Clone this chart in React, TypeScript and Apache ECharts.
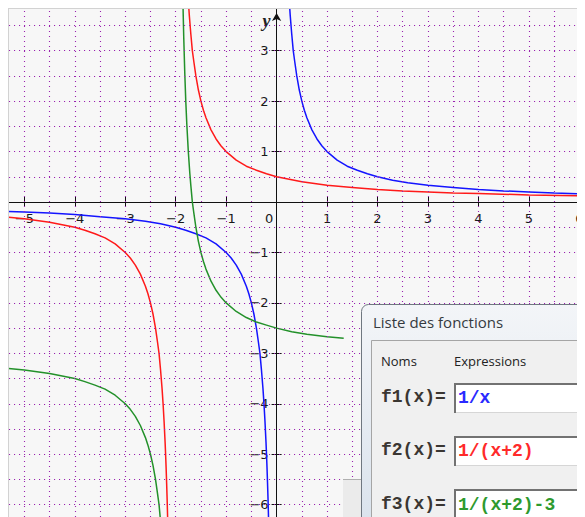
import { useEffect, useRef } from 'react';
import * as echarts from 'echarts';

// ---- axis ticks / labels ----
const xTickValues = [-5, -4, -3, -2, -1, 0, 1, 2, 3, 4, 5, 6];
const xLabelValues = [-5, -4, -3, -2, -1, 0, 1, 2, 3, 4, 5, 6];
const yTickValues = [-6, -5, -4, -3, -2, -1, 1, 2, 3];
const yLabelValues = [-6, -5, -4, -3, -2, -1, 1, 2, 3];
// dotted grid (every half unit)
const gridXValues = [-5, -4.5, -4, -3.5, -3, -2.5, -2, -1.5, -1, -0.5, 0.5, 1, 1.5, 2, 2.5, 3, 3.5, 4, 4.5, 5, 5.5, 6];
const gridYValues = [-6, -5.5, -5, -4.5, -4, -3.5, -3, -2.5, -2, -1.5, -1, -0.5, 0.5, 1, 1.5, 2, 2.5, 3, 3.5];

// ---- curves ----
const f1Right: [number, number][] = [
  [0.25, 4.0], [0.27, 3.7], [0.3, 3.33], [0.33, 3.0], [0.36, 2.78], [0.4, 2.5], [0.45, 2.22], [0.5, 2.0],
  [0.55, 1.82], [0.6, 1.67], [0.7, 1.43], [0.8, 1.25], [0.9, 1.11], [1, 1.0], [1.2, 0.83], [1.4, 0.71],
  [1.6, 0.63], [1.8, 0.56], [2, 0.5], [2.3, 0.43], [2.6, 0.38], [3, 0.33], [3.5, 0.29], [4, 0.25],
  [4.5, 0.22], [5, 0.2], [5.5, 0.18], [6.12, 0.16],
];
const f1Left: [number, number][] = [
  [-5.31, -0.19], [-5, -0.2], [-4.5, -0.22], [-4, -0.25], [-3.5, -0.29], [-3, -0.33], [-2.6, -0.38],
  [-2.3, -0.43], [-2, -0.5], [-1.8, -0.56], [-1.6, -0.63], [-1.4, -0.71], [-1.2, -0.83], [-1, -1.0],
  [-0.9, -1.11], [-0.8, -1.25], [-0.7, -1.43], [-0.6, -1.67], [-0.55, -1.82], [-0.5, -2.0], [-0.45, -2.22],
  [-0.4, -2.5], [-0.36, -2.78], [-0.33, -3.0], [-0.3, -3.33], [-0.27, -3.7], [-0.25, -4.0], [-0.23, -4.35],
  [-0.21, -4.76], [-0.2, -5.0], [-0.19, -5.26], [-0.18, -5.56], [-0.17, -5.88], [-0.16, -6.25],
];
const f2Right: [number, number][] = [
  [-1.75, 4.0], [-1.73, 3.7], [-1.7, 3.33], [-1.67, 3.0], [-1.64, 2.78], [-1.6, 2.5], [-1.55, 2.22],
  [-1.5, 2.0], [-1.45, 1.82], [-1.4, 1.67], [-1.3, 1.43], [-1.2, 1.25], [-1.1, 1.11], [-1, 1.0],
  [-0.8, 0.83], [-0.6, 0.71], [-0.4, 0.63], [-0.2, 0.56], [0, 0.5], [0.5, 0.4], [1, 0.33], [1.5, 0.29],
  [2, 0.25], [2.5, 0.22], [3, 0.2], [3.5, 0.18], [4, 0.17], [5, 0.14], [6.12, 0.12],
];
const f2Left: [number, number][] = [
  [-5.31, -0.3], [-5, -0.33], [-4.5, -0.4], [-4, -0.5], [-3.8, -0.56], [-3.6, -0.63], [-3.4, -0.71],
  [-3.2, -0.83], [-3, -1.0], [-2.9, -1.11], [-2.8, -1.25], [-2.7, -1.43], [-2.6, -1.67], [-2.55, -1.82],
  [-2.5, -2.0], [-2.45, -2.22], [-2.4, -2.5], [-2.36, -2.78], [-2.33, -3.0], [-2.3, -3.33], [-2.27, -3.7],
  [-2.25, -4.0], [-2.23, -4.35], [-2.21, -4.76], [-2.2, -5.0], [-2.19, -5.26], [-2.18, -5.56],
  [-2.17, -5.88], [-2.16, -6.25],
];
const f3Right: [number, number][] = [
  [-1.86, 4.14], [-1.85, 3.67], [-1.84, 3.25], [-1.82, 2.56], [-1.8, 2.0], [-1.78, 1.55], [-1.75, 1.0],
  [-1.72, 0.57], [-1.7, 0.33], [-1.67, 0.0], [-1.64, -0.22], [-1.6, -0.5], [-1.55, -0.78], [-1.5, -1.0],
  [-1.45, -1.18], [-1.4, -1.33], [-1.3, -1.57], [-1.2, -1.75], [-1.1, -1.89], [-1, -2.0], [-0.8, -2.17],
  [-0.6, -2.29], [-0.4, -2.38], [-0.2, -2.44], [0, -2.5], [0.3, -2.57], [0.6, -2.62], [1, -2.67], [1.33, -2.7],
];
const f3Left: [number, number][] = [
  [-5.31, -3.3], [-5, -3.33], [-4.5, -3.4], [-4, -3.5], [-3.8, -3.56], [-3.6, -3.63], [-3.4, -3.71],
  [-3.2, -3.83], [-3, -4.0], [-2.9, -4.11], [-2.8, -4.25], [-2.7, -4.43], [-2.6, -4.67], [-2.55, -4.82],
  [-2.5, -5.0], [-2.45, -5.22], [-2.4, -5.5], [-2.36, -5.78], [-2.33, -6.0], [-2.3, -6.33],
];

// ---- function list dialog ----
const functionNames = ['f1(x)=', 'f2(x)=', 'f3(x)='];
const functionExprs = ['1/x', '1/(x+2)', '1/(x+2)-3'];

const BLUE = '#1414ff';
const RED = '#ff1a1a';
const GREEN = '#23912a';
const exprColors = ['#2a2aff', '#ff2a2a', '#2e9a2e'];

const X_MIN = -5.304;
const X_MAX = 6.113;
const Y_MIN = -6.244;
const Y_MAX = 3.826;

const CHART_W = 577;
const CHART_H = 509;
const GRID_LEFT = 1;
const GRID_TOP = 1;
const PLOT_W = CHART_W - GRID_LEFT;
const PLOT_H = CHART_H - GRID_TOP;
// axes drawn through the origin: offsets derived from the scales
const X_AXIS_OFFSET = -((0 - Y_MIN) / (Y_MAX - Y_MIN)) * PLOT_H;
const Y_AXIS_OFFSET = -((0 - X_MIN) / (X_MAX - X_MIN)) * PLOT_W;

const LABEL_FONT = 'DejaVu Sans';
const fmt = (v: number) => (v < 0 ? '\u2212' + Math.abs(v) : String(v));

function buildOption(): any {
  const curve = (data: [number, number][], color: string) => ({
    type: 'line',
    data,
    showSymbol: false,
    symbol: 'none',
    z: 3,
    silent: true,
    lineStyle: { color, width: 1.5 },
    emphasis: { disabled: true },
  });

  const rowY = [389, 442, 496];
  const boxY = [375, 428, 481];
  const dialogZ = 100;

  const dialogChildren: any[] = [
    { type: 'rect', z: dialogZ, shape: { x: 335, y: 471, width: 20, height: 40 }, style: { fill: '#ebebeb' } },
    { type: 'line', z: dialogZ, shape: { x1: 335, y1: 471.5, x2: 355, y2: 471.5 }, style: { stroke: '#b0b0b0', lineWidth: 1 } },
    {
      type: 'rect', z: dialogZ,
      shape: { x: 353.5, y: 296.5, width: 240, height: 230, r: [7, 0, 0, 0] },
      style: {
        fill: new echarts.graphic.LinearGradient(0, 0, 0, 1, [
          { offset: 0, color: '#f3f5f8' },
          { offset: 1, color: '#d9e2ec' },
        ]),
        stroke: '#6f7780', lineWidth: 1,
      },
    },
    {
      type: 'text', z: dialogZ, x: 365, y: 314,
      style: { text: 'Liste des fonctions', fontFamily: 'Open Sans', fontSize: 15, fill: '#353a40', verticalAlign: 'middle' },
    },
    {
      type: 'rect', z: dialogZ,
      shape: { x: 363.5, y: 332.5, width: 230, height: 200 },
      style: { fill: '#f0f0f0', stroke: '#a5a5a5', lineWidth: 1 },
    },
    {
      type: 'text', z: dialogZ, x: 373, y: 353,
      style: { text: 'Noms', fontFamily: 'Open Sans', fontSize: 13, fill: '#222', verticalAlign: 'middle' },
    },
    {
      type: 'text', z: dialogZ, x: 446, y: 353,
      style: { text: 'Expressions', fontFamily: 'Open Sans', fontSize: 13, fill: '#222', verticalAlign: 'middle' },
    },
  ];
  functionNames.forEach((name, i) => {
    dialogChildren.push(
      {
        type: 'text', z: dialogZ, x: 373, y: rowY[i],
        style: { text: name, fontFamily: 'Liberation Mono', fontWeight: 'bold', fontSize: 18, fill: '#3a3632', verticalAlign: 'middle' },
      },
      {
        type: 'rect', z: dialogZ,
        shape: { x: 446.5, y: boxY[i] + 0.5, width: 150, height: 29 },
        style: { fill: '#ffffff', stroke: '#d6d6d6', lineWidth: 1 },
      },
      {
        type: 'polyline', z: dialogZ,
        shape: { points: [[447, boxY[i] + 30], [447, boxY[i] + 1], [597, boxY[i] + 1]] },
        style: { stroke: '#727272', lineWidth: 2, fill: 'none' },
      },
      {
        type: 'text', z: dialogZ, x: 450, y: rowY[i] + 0.5,
        style: { text: functionExprs[i], fontFamily: 'Liberation Mono', fontWeight: 'bold', fontSize: 18, fill: exprColors[i], verticalAlign: 'middle' },
      },
    );
  });

  const axisLabelStyle = { fontFamily: LABEL_FONT, fontSize: 13, color: '#1a1a1a' };

  return {
    animation: false,
    backgroundColor: '#ffffff',
    grid: {
      left: GRID_LEFT, top: GRID_TOP, right: 0, bottom: 0,
      show: true, backgroundColor: '#f7f7f7', borderWidth: 0,
      containLabel: false, outerBoundsMode: 'none',
    },
    xAxis: [
      {
        type: 'value', min: X_MIN, max: X_MAX, z: 2, position: 'bottom', offset: X_AXIS_OFFSET,
        axisLine: { show: true, onZero: false, lineStyle: { color: '#111', width: 1 } },
        axisTick: { show: true, length: 5, customValues: xTickValues, lineStyle: { color: '#111' } },
        axisLabel: {
          show: true, margin: 10, customValues: xLabelValues, ...axisLabelStyle,
          formatter: (v: number) => (v === 0 ? '{z|0}' : fmt(v)),
          rich: { z: { ...axisLabelStyle, padding: [0, 15, 0, 0] } },
        },
        splitLine: { show: false },
      },
      {
        type: 'value', min: X_MIN, max: X_MAX, z: 2, position: 'bottom', offset: X_AXIS_OFFSET,
        axisLine: { show: false, onZero: false },
        axisTick: { show: true, inside: true, length: 5, customValues: xTickValues, lineStyle: { color: '#111' } },
        axisLabel: { show: false },
        splitLine: { show: false },
      },
    ],
    yAxis: [
      {
        type: 'value', min: Y_MIN, max: Y_MAX, z: 2, position: 'left', offset: Y_AXIS_OFFSET,
        axisLine: {
          show: true, onZero: false, lineStyle: { color: '#111', width: 1 },
          symbol: ['none', 'arrow'], symbolSize: [7, 8], symbolOffset: [0, -4],
        },
        axisTick: { show: true, length: 5, customValues: yTickValues, lineStyle: { color: '#111' } },
        axisLabel: { show: true, margin: 8, customValues: yLabelValues, ...axisLabelStyle, formatter: (v: number) => fmt(v) },
        splitLine: { show: false },
        name: 'y',
        nameLocation: 'end',
        nameGap: -12,
        nameTextStyle: {
          fontFamily: 'Liberation Serif', fontStyle: 'italic', fontWeight: 'bold', fontSize: 18, color: '#222',
          align: 'right', verticalAlign: 'middle', padding: [0, 6, 0, 0],
        },
      },
      {
        type: 'value', min: Y_MIN, max: Y_MAX, z: 2, position: 'left', offset: Y_AXIS_OFFSET,
        axisLine: { show: false, onZero: false },
        axisTick: { show: true, inside: true, length: 5, customValues: yTickValues, lineStyle: { color: '#111' } },
        axisLabel: { show: false },
        splitLine: { show: false },
      },
    ],
    series: [
      {
        type: 'line', data: [], z: 1, silent: true,
        markLine: {
          silent: true, symbol: ['none', 'none'], label: { show: false },
          emphasis: { disabled: true },
          lineStyle: { color: '#9a22b0', width: 1.1, type: [1.1, 3.9] },
          data: [
            ...gridXValues.map((v) => ({ xAxis: v })),
            ...gridYValues.map((v) => ({ yAxis: v })),
          ],
        },
      },
      curve(f1Left, BLUE),
      curve(f1Right, BLUE),
      curve(f2Left, RED),
      curve(f2Right, RED),
      curve(f3Left, GREEN),
      curve(f3Right, GREEN),
    ],
    graphic: [
      { type: 'line', z: 50, silent: true, shape: { x1: 0, y1: 0.5, x2: CHART_W, y2: 0.5 }, style: { stroke: '#d2d2d2', lineWidth: 1 } },
      { type: 'line', z: 50, silent: true, shape: { x1: 0.5, y1: 0, x2: 0.5, y2: CHART_H }, style: { stroke: '#d2d2d2', lineWidth: 1 } },
      { type: 'group', z: dialogZ, silent: true, children: dialogChildren },
    ],
  };
}

export default function App() {
  const ref = useRef<HTMLDivElement>(null);
  useEffect(() => {
    if (!ref.current) return;
    const chart = echarts.init(ref.current, undefined, { renderer: 'svg' });
    chart.setOption(buildOption());
    return () => chart.dispose();
  }, []);
  return <div ref={ref} style={{ width: CHART_W, height: CHART_H }} />;
}
